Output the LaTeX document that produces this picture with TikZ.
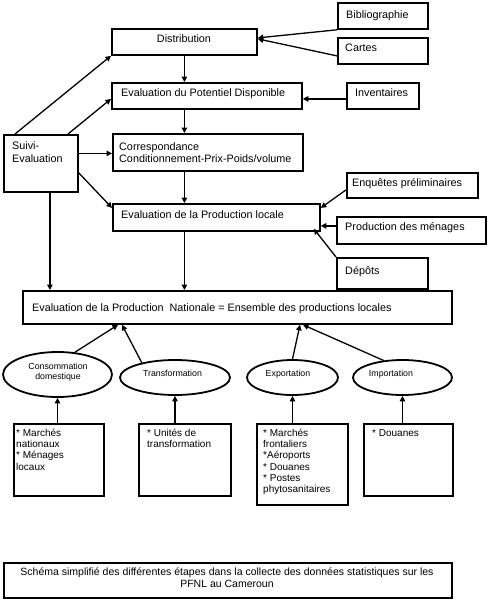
\documentclass[tikz,border=0pt]{standalone}
\usepackage{fontspec}
\setmainfont{Liberation Sans}
\usetikzlibrary{arrows.meta,shapes.geometric}
\begin{document}
\begin{tikzpicture}[x=1pt,y=-1pt,
 box/.style={draw,line width=1.8pt,inner sep=0pt,anchor=north west},
 oval/.style={draw,ellipse,line width=1.8pt,inner sep=0pt},
 txt/.style={inner sep=0pt,yshift=-1.5pt,font=\fontsize{10.8}{13}\selectfont},
 small/.style={inner sep=0pt,yshift=-0.5pt,font=\fontsize{10}{11.3}\selectfont,align=left,anchor=north west},
 tiny/.style={inner sep=0pt,yshift=-1pt,font=\fontsize{8.8}{10}\selectfont},
 arr/.style={line width=1.3pt,-{Triangle[length=5.5pt,width=5.5pt]}}]
\fill[white] (0,0) rectangle (488,600);
\useasboundingbox (0,0) rectangle (488,600);
% boxes
\node[box,minimum width=145pt,minimum height=26pt] (dist) at (111,28) {};
\node[box,minimum width=90pt,minimum height=26pt] (biblio) at (337,2) {};
\node[box,minimum width=90pt,minimum height=26pt] (cartes) at (337,37) {};
\node[box,minimum width=190pt,minimum height=26pt] (evalpot) at (111,82) {};
\node[box,minimum width=72pt,minimum height=26pt] (invent) at (346,82) {};
\node[box,minimum width=74pt,minimum height=57pt] (suivi) at (3,134) {};
\node[box,minimum width=190pt,minimum height=37pt] (corresp) at (112,133) {};
\node[box,minimum width=207pt,minimum height=27pt] (evalprod) at (112,203) {};
\node[box,minimum width=131pt,minimum height=25pt] (enq) at (346,172) {};
\node[box,minimum width=149pt,minimum height=27pt] (prodmen) at (336,216) {};
\node[box,minimum width=91pt,minimum height=31pt] (depots) at (336,257) {};
\node[box,minimum width=429pt,minimum height=33pt] (national) at (22,290) {};
\node[box,minimum width=90pt,minimum height=72pt] (b1) at (13,423) {};
\node[box,minimum width=92pt,minimum height=72pt] (b2) at (138,423) {};
\node[box,minimum width=91pt,minimum height=81pt] (b3) at (256,423) {};
\node[box,minimum width=89pt,minimum height=72pt] (b4) at (363,423) {};
\node[box,minimum width=448pt,minimum height=35pt] (caption) at (3,562) {};
% ellipses
\node[oval,minimum width=109pt,minimum height=45pt] (cons) at (57.5,374.5) {};
\node[oval,minimum width=110pt,minimum height=35pt] (trans) at (175,377.5) {};
\node[oval,minimum width=91pt,minimum height=35pt] (exp) at (292.5,377.5) {};
\node[oval,minimum width=99pt,minimum height=35pt] (imp) at (402.5,377.5) {};
% texts
\node[txt,anchor=mid] (tdist) at (184,38) {Distribution};
\node[txt,anchor=mid west] (tbib) at (346,14) {Bibliographie};
\node[txt,anchor=mid west] (tcar) at (345,47) {Cartes};
\node[txt,anchor=mid west] (tpot) at (121,92) {Evaluation du Potentiel Disponible};
\node[txt,anchor=mid west] (tinv) at (355,92) {Inventaires};
\node[txt,anchor=north west,align=left] (tsui) at (12,137) {\rule{0pt}{10.8pt}Suivi-\\Evaluation};
\node[txt,anchor=north west,align=left,font=\fontsize{10.8}{12}\selectfont] (tcor) at (119,138) {\rule{0pt}{10.8pt}Correspondance\\Conditionnement-Prix-Poids/volume};
\node[txt,anchor=mid west] (tprod) at (121,214) {Evaluation de la Production locale};
\node[txt,anchor=mid west] (tenq) at (352,182) {Enquêtes préliminaires};
\node[txt,anchor=mid west] (tmen) at (345,226) {Production des ménages};
\node[txt,anchor=mid west] (tdep) at (345,270) {Dépôts};
\node[txt,anchor=mid west] (tnat) at (32,307) {Evaluation de la Production\ \ Nationale = Ensemble des productions locales};
\node[tiny,anchor=north,align=center] (tcons) at (58,359.5) {\rule{0pt}{8.8pt}Consommation\\domestique};
\node[tiny,anchor=mid] (ttra) at (172.5,373) {Transformation};
\node[tiny,anchor=mid] (texp) at (288,373) {Exportation};
\node[tiny,anchor=mid] (timp) at (391,373) {Importation};
\node[small] (tb1) at (16,425.6) {\rule{0pt}{10pt}* Marchés\\nationaux\\* Ménages\\locaux};
\node[small] (tb2) at (147,425.6) {\rule{0pt}{10pt}* Unités de\\transformation};
\node[small] (tb3) at (263,425.6) {\rule{0pt}{10pt}* Marchés\\frontaliers\\*Aéroports\\* Douanes\\* Postes\\phytosanitaires};
\node[small] (tb4) at (372,425.6) {\rule{0pt}{10pt}* Douanes};
\node[inner sep=0pt,anchor=north,align=center,yshift=-1pt,font=\fontsize{10.5}{12}\selectfont] (tcap) at (227,564.2) {\rule{0pt}{10.5pt}Schéma simplifié des différentes étapes dans la collecte des données statistiques sur les\\PFNL au Cameroun};
% arrows
\draw[arr] (biblio.south west) -- ([yshift=4pt]dist.east);
\draw[arr] ([yshift=-5pt]cartes.west) -- ([yshift=3pt]dist.east);
\draw[arr] (dist.south) -- (dist.south |- evalpot.north);
\draw[arr] ([yshift=-3pt]invent.west) -- ([yshift=-3pt]invent.west -| evalpot.east);
\draw[arr] (dist.south |- evalpot.south) -- (dist.south |- corresp.north);
\draw[arr] (dist.south |- corresp.south) -- (dist.south |- evalprod.north);
\draw[arr] (dist.south |- evalprod.south) -- (dist.south |- national.north);
\draw[arr] ([xshift=12pt]suivi.north west) -- (dist.south west);
\draw[arr] ([xshift=65pt]suivi.north west) -- ([yshift=-3pt]evalpot.west);
\draw[arr] ([yshift=10pt]suivi.east) -- ([yshift=10pt]suivi.east -| corresp.west);
\draw[arr] ([yshift=-9.5pt]suivi.east) -- ([yshift=9.5pt]evalprod.west);
\draw[arr] ([xshift=9pt]suivi.south) -- ([xshift=9pt]suivi.south |- national.north);
\draw[arr] ([yshift=-4.5pt]enq.west) -- ([yshift=9.5pt]evalprod.east);
\draw[arr] ([yshift=4.5pt]prodmen.west) -- ([yshift=4.5pt]prodmen.west -| evalprod.east);
\draw[arr] (depots.north west) -- ([xshift=-7pt,yshift=3pt]evalprod.south east);
\draw[arr] (cons.52) -- ([xshift=96pt]national.south west);
\draw[arr] (trans.156) -- ([xshift=100pt]national.south west);
\draw[arr] (exp.north) -- ([xshift=278pt]national.south west);
\draw[arr] (imp.138) -- ([xshift=281pt]national.south west);
\draw[arr] (cons.south |- b1.north) -- (cons.south);
\draw[arr] (trans.south |- b2.north) -- (trans.south);
\draw[arr] (exp.south |- b3.north) -- (exp.south);
\draw[arr] (imp.south |- b4.north) -- (imp.south);
\end{tikzpicture}
\end{document}
